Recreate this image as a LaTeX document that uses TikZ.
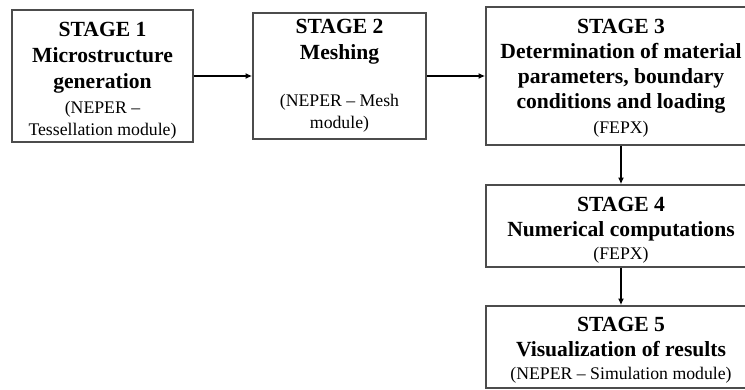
\documentclass[tikz,border=0pt]{standalone}
\usepackage{fontspec}
\setmainfont{Liberation Serif}
\usetikzlibrary{arrows.meta}

\tikzset{
    stagebox/.style={draw=black!70, line width=1.2pt, align=center, inner sep=0pt,
        font=\fontsize{16.2pt}{18.8pt}\selectfont},
    flow/.style={-{Latex[length=5pt,width=4.5pt]}, line width=1.3pt}
}
\newcommand{\hd}{\bfseries}
\newcommand{\tl}{\fontsize{13.3pt}{18.8pt}\selectfont\mdseries}
% strut that pushes the first line down
\newcommand{\topgap}[1]{\rule{0pt}{#1}}

\begin{document}
\begin{tikzpicture}[x=0.75pt, y=0.75pt]
    \useasboundingbox (0,0) rectangle (745,389);
    \clip (0,0) rectangle (745,389);

    % Boxes of the first row
    \node[stagebox, minimum width=135.75pt, minimum height=99pt] (s1) at (102.5,313)
        {\topgap{18pt}\hd STAGE 1\\[0.8pt]\hd Microstructure\\[0.5pt]\hd generation\\\tl (NEPER --\\[-2pt]\tl Tessellation module)};
    \node[stagebox, minimum width=129.75pt, minimum height=94.5pt] (s2) at (339.5,313)
        {\hd STAGE 2\\\hd Meshing\\[17pt]\tl (NEPER -- Mesh\\[-2.5pt]\tl module)};
    \node[stagebox, minimum width=202.5pt, minimum height=103.5pt] (s3) at (621,313)
        {\topgap{14pt}\hd STAGE 3\\\hd Determination of material\\\hd parameters, boundary\\\hd conditions and loading\\\tl (FEPX)};

    % Boxes of the column
    \node[stagebox, minimum width=202.5pt, minimum height=61.5pt] (s4) at (621,163)
        {\topgap{16.5pt}\hd STAGE 4\\\hd Numerical computations\\[-1.5pt]\tl (FEPX)};
    \node[stagebox, minimum width=202.5pt, minimum height=61.5pt] (s5) at (621,42)
        {\topgap{15pt}\hd STAGE 5\\\hd Visualization of results\\[-1.5pt]\tl (NEPER -- Simulation module)};

    % Arrows
    \draw[flow] (s1) -- (s2);
    \draw[flow] (s2) -- (s3);
    \draw[flow] (s3) -- (s4);
    \draw[flow] (s4) -- (s5);
\end{tikzpicture}
\end{document}
